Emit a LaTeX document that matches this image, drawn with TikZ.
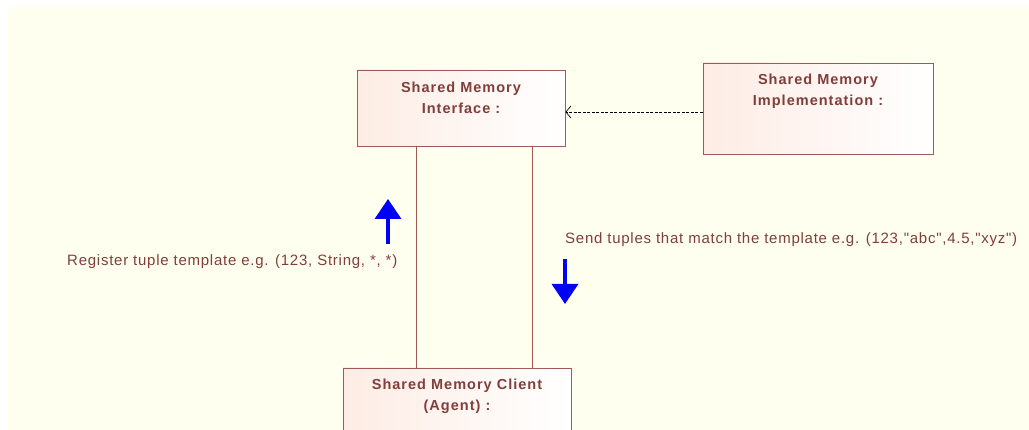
\documentclass[tikz,border=0pt]{standalone}
\usepackage{fontspec}
\setmainfont{Liberation Sans}
\newfontfamily\boxfont[LetterSpace=7]{Liberation Sans}
\newfontfamily\plainfont[LetterSpace=5]{Liberation Sans}
\usetikzlibrary{arrows.meta,positioning}
\definecolor{bgy}{RGB}{255,255,240}
\definecolor{txt}{RGB}{130,62,58}
\definecolor{boxline}{RGB}{160,90,85}
\definecolor{boxfill}{RGB}{253,236,228}
\begin{document}
\begin{tikzpicture}[x=1pt,y=-1pt,
  umlbox/.style={draw=boxline, line width=0.9pt, left color=boxfill, right color=white, shading angle=90, rectangle, inner sep=0pt},
  boxtext/.style={text=txt, font=\boxfont\bfseries\fontsize{14.5}{21}\selectfont, align=center, anchor=center, inner sep=0pt},
  plaintext/.style={text=txt, font=\plainfont\fontsize{15}{17}\selectfont, inner sep=0pt},
  lifeline/.style={draw=boxline, line width=0.9pt},
  bluearrow/.style={draw=blue, fill=blue, line width=3.5pt, -{Triangle[length=20pt,width=26pt]}}
]
\useasboundingbox (0,0) rectangle (1029,430);
\clip (0,0) rectangle (1029,430);
\fill[white] (0,0) rectangle (1029,430);
\fill[bgy] (8,7) rectangle (1029,430);

\node[umlbox, minimum width=208pt, minimum height=76pt] (iface) at (461,108) {};
\node[boxtext] (ifacet) at (461,97.5) {Shared Memory\\Interface :};

\node[umlbox, minimum width=230pt, minimum height=91pt] (impl) at (818,108.5) {};
\node[boxtext] (implt) at (818,91) {Shared Memory\\Implementation :};

\node[umlbox, minimum width=228pt, minimum height=90pt] (client) at (457,413) {};
\node[boxtext] (clientt) at (457,396) {Shared Memory Client\\(Agent) :};

\coordinate (ia) at (iface.south -| 416,0);
\coordinate (ib) at (iface.south -| 532,0);
\coordinate (ca) at (client.north -| 416,0);
\coordinate (cb) at (client.north -| 532,0);
\draw[lifeline] (ia) -- (ca);
\draw[lifeline] (ib) -- (cb);

\draw[dashed, line width=0.7pt, dash pattern=on 3pt off 1.5pt, -{Straight Barb[length=5pt,width=12pt]}] (impl.west |- 0,112) -- (iface.east |- 0,112);

\coordinate (ua) at (388,244);
\coordinate (ub) at (388,199);
\draw[bluearrow] (ua) -- (ub);
\coordinate (da) at (565,259);
\coordinate (db) at (565,304);
\draw[bluearrow] (da) -- (db);

\node[plaintext, anchor=west] (regt) at (67,262) {Register tuple template e.g. (123, String, *, *)};
\node[plaintext, anchor=west] (sendt) at (565,240) {Send tuples that match the template e.g. (123,"abc",4.5,"xyz")};
\end{tikzpicture}
\end{document}
